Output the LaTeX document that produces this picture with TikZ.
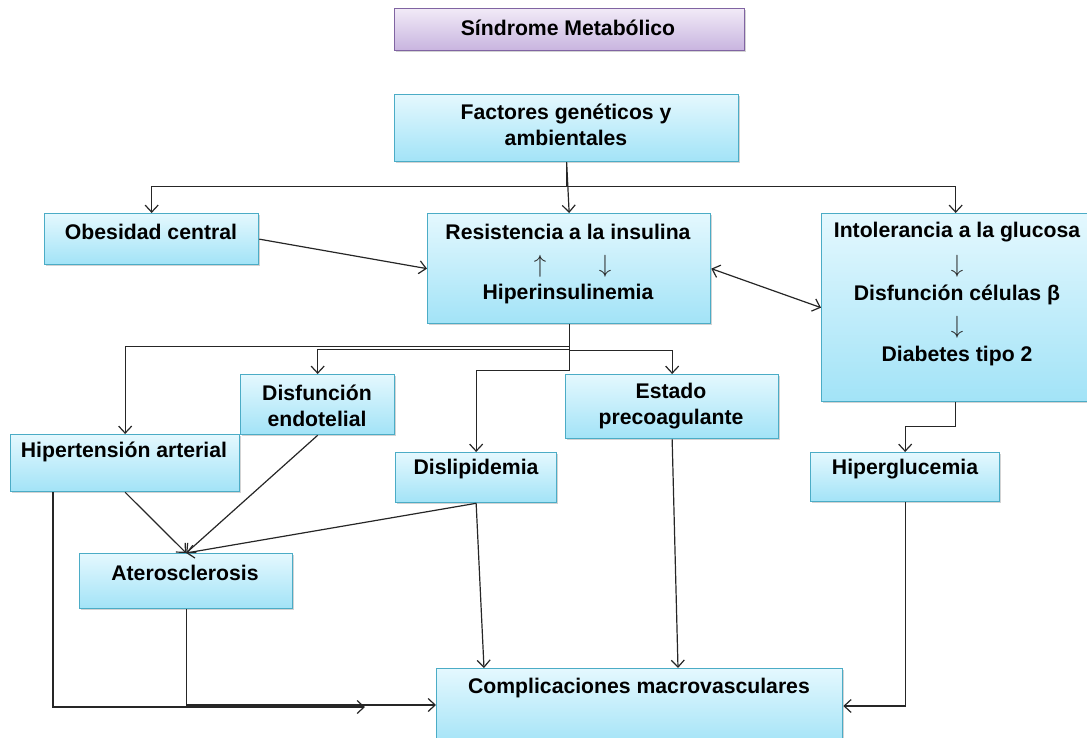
\documentclass[tikz,border=0pt]{standalone}
\usepackage{fontspec}
\setmainfont{Liberation Sans}
\usetikzlibrary{arrows.meta,shadows,calc}
\definecolor{boxborder}{HTML}{4BACC6}
\definecolor{boxtop}{HTML}{E4F8FE}
\definecolor{boxbot}{HTML}{A2E3F7}
\definecolor{ttlborder}{HTML}{8064A2}
\definecolor{ttltop}{HTML}{F1EAF7}
\definecolor{ttlbot}{HTML}{C8B4DF}
\tikzset{
  box/.style={draw=boxborder, line width=1.3pt, top color=boxtop, bottom color=boxbot,
    anchor=north west, inner sep=0pt,
    drop shadow={opacity=0.35, shadow xshift=1.5pt, shadow yshift=-1.5pt}},
  ttlbox/.style={box, draw=ttlborder, top color=ttltop, bottom color=ttlbot},
  lbl/.style={font=\fontsize{21.2}{26}\selectfont\bfseries, align=center, inner sep=0pt, text=black},
  sym/.style={font=\fontsize{26}{26}\selectfont, inner sep=0pt, text=black!85},
  conn/.style={draw=black!85, line width=1.2pt},
  arr/.style={conn, -{Straight Barb[length=7pt,width=13pt,line width=1.2pt]}},
  darr/.style={conn, {Straight Barb[length=7pt,width=13pt,line width=1.2pt]}-{Straight Barb[length=7pt,width=13pt,line width=1.2pt]}}
}
\begin{document}
\begin{tikzpicture}[x=1pt,y=-1pt]
\useasboundingbox (0,0) rectangle (1087,738);
% boxes
\node[ttlbox, minimum width=350pt, minimum height=42pt] (ttl) at (394,8) {};
\node[box, minimum width=344pt, minimum height=67pt] (fac) at (394,94) {};
\node[box, minimum width=214pt, minimum height=51pt] (obe) at (44,213) {};
\node[box, minimum width=283pt, minimum height=110pt] (res) at (427,213) {};
\node[box, minimum width=272pt, minimum height=188pt] (int) at (821,213) {};
\node[box, minimum width=154pt, minimum height=60pt] (dis) at (240,374) {};
\node[box, minimum width=213pt, minimum height=64pt] (est) at (565,374) {};
\node[box, minimum width=229pt, minimum height=57pt] (hip) at (10,434) {};
\node[box, minimum width=161pt, minimum height=50pt] (dsl) at (395,452) {};
\node[box, minimum width=189pt, minimum height=49pt] (hgl) at (810,452) {};
\node[box, minimum width=213pt, minimum height=55pt] (ate) at (79,553) {};
\node[box, minimum width=406pt, minimum height=78pt] (comp) at (436,668) {};
% labels
\node[lbl] (tttl) at (568,28) {Síndrome Metabólico};
\node[lbl] (tfac) at (566,125) {Factores genéticos y\\ambientales};
\node[lbl] (tobe) at (151,232) {Obesidad central};
\node[lbl] (tres1) at (568,232) {Resistencia a la insulina};
\node[sym] (tup) at (540,266) {$\uparrow$};
\node[sym] (tdn) at (605,266) {$\downarrow$};
\node[lbl] (tres2) at (568,294) {Hiperinsulinemia};
\node[lbl] (tint1) at (957,232) {Intolerancia a la glucosa};
\node[sym] (tdn1) at (957,266) {$\downarrow$};
\node[lbl] (tint2) at (957,295) {Disfunción células β};
\node[sym] (tdn2) at (957,327) {$\downarrow$};
\node[lbl] (tint3) at (957,356) {Diabetes tipo 2};
\node[lbl] (tdis) at (317,406) {Disfunción\\endotelial};
\node[lbl] (test) at (671,406) {Estado\\precoagulante};
\node[lbl] (thip) at (124,452) {Hipertensión arterial};
\node[lbl] (tdsl) at (476,469) {Dislipidemia};
\node[lbl] (thgl) at (905,469) {Hiperglucemia};
\node[lbl] (tate) at (185,573) {Aterosclerosis};
\node[lbl] (tcomp) at (639,688) {Complicaciones macrovasculares};
% connectors
\draw[arr] (fac.south) -- ++(0,24) -| (obe.north);
\draw[arr] (fac.south) -- ++(0,24) -| ([xshift=-2pt]int.north);
\draw[arr] (fac.south) -- (res.north);
\draw[arr] (obe.east) -- (res.west);
\draw[darr] (res.east) -- (int.west);
\draw[arr] (res.south) -- ++(0,22) -| (hip.north);
\draw[arr] (res.south) -- ++(0,25) -| (dis.north);
\draw[arr] (res.south) -- ++(0,26) -| (est.north);
\draw[arr] (res.south) -- ++(0,46) -| (dsl.north);
\draw[arr] ([xshift=-2pt]int.south) -- ++(0,24) -| (hgl.north);
\draw[arr] (hip.south) -- (ate.north);
\draw[arr] (dis.south) -- (ate.north);
\draw[arr] (dsl.south) -- (ate.north);
\draw[arr] (dsl.south) -- ([xshift=48pt]comp.north west);
\draw[arr] (est.south) -- ([xshift=242pt]comp.north west);
\draw[arr] (hgl.south) |- ([yshift=-38pt]comp.north east);
\coordinate (hipend) at (365,707);
\draw[arr] ([xshift=43pt]hip.south west) |- (hipend);
\draw[arr] (ate.south) |- ([yshift=-37pt]comp.north west);
\end{tikzpicture}
\end{document}
